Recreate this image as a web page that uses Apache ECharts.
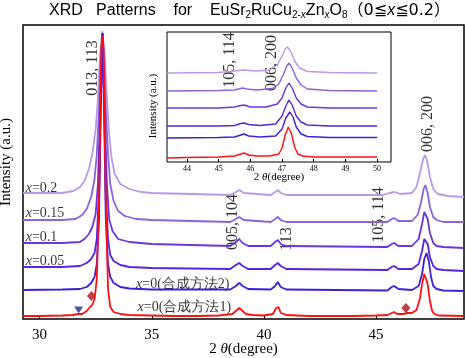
<!DOCTYPE html>
<html><head><meta charset="utf-8">
<script src="https://cdn.jsdelivr.net/npm/echarts@6/dist/echarts.min.js"></script>
<style>html,body{margin:0;padding:0;background:#fff}#c{width:465px;height:358px}</style>
</head><body><div id="c"></div>
<script>
// ---- main panel traces: [2theta, intensity (a.u.)]
const traceM1 = [[29.26,3],[30,3],[31,3.5],[31.5,4],[31.7,5],[31.9,5],[32.1,8],[32.25,12],[32.35,14],[32.45,20],[32.55,40],[32.65,120],[32.75,270],[32.8,283],[32.85,270],[32.95,120],[33.05,30],[33.15,12],[33.3,7],[33.6,5],[34,4],[35,3.5],[36,3],[37,3],[38,3.5],[38.6,5],[38.8,9],[38.9,11],[39.0,9],[39.2,5],[39.5,4],[40,3.5],[40.4,5],[40.55,11],[40.65,12],[40.75,6],[41,4],[42,3],[43,3],[44,3],[45,3.5],[45.5,4],[45.7,6],[45.8,7],[45.95,5],[46.2,5],[46.4,6],[46.6,6],[46.8,9],[46.95,20],[47.05,35],[47.15,45],[47.2,46],[47.3,35],[47.4,18],[47.5,8],[47.6,5],[47.8,3.5],[48.92,3]];
const traceM2 = [[29.26,29],[31,29.5],[31.8,30],[32.1,32],[32.3,36],[32.45,42],[32.55,55],[32.65,100],[32.72,200],[32.8,285],[32.88,200],[32.95,100],[33.05,55],[33.15,42],[33.3,36],[33.6,32],[34,30.5],[35,29.5],[38.5,29.5],[38.75,33],[38.9,36],[39.05,33],[39.3,30],[40.3,29.5],[40.5,33],[40.62,37],[40.75,32],[41,29.5],[45.5,28.5],[45.7,32],[45.8,33],[46,30],[46.6,29],[46.9,33],[47.05,45],[47.15,60],[47.25,66],[47.35,58],[47.45,42],[47.55,33],[47.7,30],[48,28.5],[48.92,28]];
const traceX005 = [[29.26,52],[31,52],[31.8,53],[32.1,56],[32.3,60],[32.45,66],[32.55,80],[32.65,130],[32.72,220],[32.8,286],[32.88,220],[32.95,130],[33.05,80],[33.15,64],[33.3,58],[33.6,54],[34,52],[35,51],[38.5,50],[38.75,54],[38.9,56],[39.05,53],[39.3,50],[40.3,50],[40.5,54],[40.62,56],[40.75,53],[41,50],[45.5,49],[45.7,52],[45.8,53],[46,50],[46.6,50],[46.9,55],[47.05,68],[47.15,80],[47.2,82],[47.3,75],[47.4,62],[47.55,53],[47.7,50],[48,49],[48.92,48]];
const traceX01 = [[29.26,76],[31,76],[31.8,77],[32.0,80],[32.2,85],[32.35,92],[32.5,105],[32.6,135],[32.7,210],[32.8,286],[32.9,210],[33.0,135],[33.1,100],[33.25,88],[33.5,80],[34,77],[35,75],[38.5,73],[38.75,77],[38.9,80],[39.05,76],[39.3,73],[40.3,73],[40.5,77],[40.62,79],[40.75,75],[41,73],[45.5,72],[45.7,75],[45.8,76],[46,73],[46.6,73],[46.9,80],[47.05,95],[47.15,107],[47.2,109],[47.3,100],[47.4,86],[47.55,76],[47.7,73],[48,72],[48.92,71]];
const traceX015 = [[29.26,99],[31,99],[31.6,100],[31.9,104],[32.1,110],[32.3,122],[32.45,140],[32.55,165],[32.65,210],[32.72,260],[32.8,286],[32.88,260],[32.95,210],[33.05,165],[33.15,135],[33.3,118],[33.5,108],[33.8,103],[34.3,100],[35,99],[38.5,97],[38.75,100],[38.9,102],[39.1,99],[40.3,97],[40.5,100],[40.62,102],[40.75,99],[41,97],[45.5,97],[45.7,100],[45.8,101],[46,98],[46.6,98],[46.85,104],[47.0,116],[47.12,130],[47.2,134],[47.3,126],[47.4,112],[47.55,102],[47.7,99],[48,97],[48.92,97]];
const traceX02 = [[29.26,126],[31,126],[31.5,128],[31.8,132],[32.0,138],[32.2,150],[32.35,165],[32.5,190],[32.6,220],[32.7,265],[32.8,288],[32.9,265],[33.0,220],[33.1,185],[33.2,162],[33.35,145],[33.6,135],[34,130],[34.5,127],[35,126],[38.5,124],[38.75,127],[38.9,129],[39.1,126],[40.3,124],[40.5,127],[40.62,129],[40.75,126],[41,124],[45.3,124],[45.6,126],[45.8,127],[46.1,125],[46.6,126],[46.8,132],[46.95,145],[47.1,160],[47.18,164],[47.28,158],[47.4,142],[47.55,130],[47.75,125],[48.2,123],[48.92,122]];
// ---- inset traces
const insM1 = [[43.37,4],[44,4.5],[45,5],[45.5,6],[45.7,8],[45.8,9],[45.95,7],[46.2,6],[46.6,6],[46.9,8],[47.0,14],[47.1,27],[47.2,35],[47.3,28],[47.4,15],[47.5,8],[47.65,6],[48,5],[49,5],[50,5]];
const insM2 = [[43.37,24],[45,24.5],[45.5,25],[45.7,27],[45.8,28],[45.95,26],[46.3,25],[46.8,26],[47.0,33],[47.12,44],[47.25,50],[47.35,45],[47.45,35],[47.6,28],[47.8,25.5],[48.5,24.5],[50,24.5]];
const insX005 = [[43.37,36],[45,36],[45.5,36.5],[45.7,38.5],[45.8,39],[45.95,37.5],[46.3,36.5],[46.8,38],[47.0,46],[47.12,56],[47.22,62],[47.32,57],[47.45,46],[47.6,40],[47.8,37],[48.5,36],[50,36]];
const insX01 = [[43.37,54],[45,54],[45.5,55],[45.7,56.5],[45.8,57],[46,55],[46.5,55],[46.85,58],[47.0,64],[47.12,74],[47.22,79],[47.32,74],[47.45,64],[47.6,58],[47.8,55],[48.5,54],[50,54]];
const insX015 = [[43.37,71],[45,71.5],[45.5,72],[45.75,74],[45.9,73],[46.2,72],[46.7,73.5],[46.9,78],[47.05,88],[47.15,96],[47.22,99],[47.32,94],[47.45,84],[47.6,77],[47.8,73],[48.5,71.5],[50,71]];
const insX02 = [[43.37,89],[45,89.5],[45.5,91],[45.8,92],[46.2,91],[46.6,92],[46.85,97],[47.0,106],[47.1,113],[47.17,115],[47.27,111],[47.4,101],[47.55,94],[47.8,90.5],[48.5,89.5],[50,89]];
// ---- tick values
const mainTicks = [30, 35, 40, 45];
const insetTicks = [44, 45, 46, 47, 48, 49, 50];
// ---- annotations
const peakLabels = [["013, 113",32.36,251],["005, 104",38.63,97],["113",41.04,80],["105, 114",45.13,104],["006, 200",47.31,195]];
const insetPeakLabels = [["105, 114",45.36,102],["006, 200",46.68,99]];
const traceLabels = [["{i|x}=0.2",29.38,131],["{i|x}=0.15",29.38,106],["{i|x}=0.1",29.38,82],["{i|x}=0.05",29.38,58],["{i|x}=0(合成方法2)",34.3,35],["{i|x}=0(合成方法1)",34.37,12]];
const triangleMarks = [[31.74,9]];
const diamondMarks = [[32.31,23],[46.33,11]];

const colors = {m1:'#ff1010', m2:'#3d1fdc', x005:'#5a22e2', x01:'#6b34de', x015:'#8c62e2', x02:'#b79ae8'};
const serif = 'Liberation Serif, Times New Roman, serif';
const sans = 'Liberation Sans, Arial, sans-serif';

function line(data, color, xi, w){
  return {type:'line', xAxisIndex:xi, yAxisIndex:xi, data:data, showSymbol:false, symbol:'none',
    lineStyle:{color:color, width:w}, clip:true, animation:false, silent:true};
}
function labelSeries(arr, xi, opts){
  return {type:'scatter', xAxisIndex:xi, yAxisIndex:xi, symbolSize:0, silent:true, animation:false,
    data: arr.map(a=>({name:a[0], value:[a[1],a[2]]})),
    label: Object.assign({show:true, formatter: p=>p.name, color:'#000', fontFamily:serif, fontSize:14}, opts)};
}

const chart = echarts.init(document.getElementById('c'), null, {renderer:'canvas'});
chart.setOption({
  backgroundColor:'#fff',
  animation:false,
  title:{
    text:'XRD   Patterns    for    EuSr{s|2}RuCu{s|2-}{si|x}Zn{si|x}O{s|8}{p|（0≦}{it|x}{p|≦0.2）}',
    left:49, top:1, padding:0,
    textStyle:{fontFamily:sans, fontSize:16, fontWeight:'normal', color:'#000',
      rich:{
        s:{fontSize:10, padding:[9,0,0,0], fontFamily:sans},
        si:{fontSize:10, fontStyle:'italic', padding:[9,0,0,0], fontFamily:sans},
        p:{fontSize:16, fontFamily:'DejaVu Sans, Noto Sans CJK JP, sans-serif'},
        it:{fontSize:16, fontStyle:'italic', fontFamily:sans}
      }}
  },
  grid:[
    {left:23, top:25, right:1, bottom:39, show:true, borderColor:'#000', borderWidth:1.5, backgroundColor:'transparent', outerBoundsMode:'none', containLabel:false},
    {left:167, top:32, width:224, height:130, show:true, borderColor:'#000', borderWidth:1, backgroundColor:'#fff', outerBoundsMode:'none', containLabel:false}
  ],
  xAxis:[
    {gridIndex:0, type:'value', min:29.26, max:48.92,
      axisLine:{show:false}, splitLine:{show:false},
      axisTick:{show:true, inside:true, length:4, customValues:mainTicks, lineStyle:{color:'#000', width:1}},
      axisLabel:{customValues:mainTicks, fontFamily:serif, fontSize:15, color:'#000', margin:9},
      name:'2 {t|θ}(degree)', nameLocation:'middle', nameGap:23, nameMoveOverlap:false,
      nameTextStyle:{fontFamily:serif, fontSize:15, color:'#000', rich:{t:{fontStyle:'italic', fontFamily:serif, fontSize:15}}}},
    {gridIndex:1, type:'value', min:43.37, max:50.44,
      axisLine:{show:false}, splitLine:{show:false},
      axisTick:{show:true, inside:true, length:3, customValues:insetTicks, lineStyle:{color:'#000', width:1}},
      axisLabel:{customValues:insetTicks, fontFamily:serif, fontSize:8, color:'#000', margin:3},
      name:'2 {t|θ}(degree)', nameLocation:'middle', nameGap:10, nameMoveOverlap:false,
      nameTextStyle:{fontFamily:serif, fontSize:11, color:'#000', rich:{t:{fontStyle:'italic', fontFamily:serif, fontSize:11}}}}
  ],
  yAxis:[
    {gridIndex:0, type:'value', min:0, max:294, axisLine:{show:false}, axisTick:{show:false}, axisLabel:{show:false}, splitLine:{show:false},
      name:'Intensity (a.u.)', nameLocation:'middle', nameGap:9, nameMoveOverlap:false, nameTextStyle:{fontFamily:serif, fontSize:15, color:'#000', padding:[0,0,0,20]}},
    {gridIndex:1, type:'value', min:0, max:130, axisLine:{show:false}, axisTick:{show:false}, axisLabel:{show:false}, splitLine:{show:false},
      name:'Intensity (a.u.)', nameLocation:'middle', nameGap:8, nameMoveOverlap:false, nameTextStyle:{fontFamily:serif, fontSize:11, color:'#000', padding:[0,18,0,0]}}
  ],
  series:[
    line(traceX02, colors.x02, 0, 1.8),
    line(traceX015, colors.x015, 0, 1.8),
    line(traceX01, colors.x01, 0, 1.8),
    line(traceX005, colors.x005, 0, 1.8),
    line(traceM2, colors.m2, 0, 1.8),
    line(traceM1, colors.m1, 0, 1.8),
    line(insX02, colors.x02, 1, 1.4),
    line(insX015, colors.x015, 1, 1.4),
    line(insX01, colors.x01, 1, 1.4),
    line(insX005, colors.x005, 1, 1.4),
    line(insM2, colors.m2, 1, 1.4),
    line(insM1, colors.m1, 1, 1.4),
    {type:'scatter', xAxisIndex:0, yAxisIndex:0, data:triangleMarks, symbol:'triangle', symbolRotate:180, symbolSize:[9,7], itemStyle:{color:'#1e2c7a'}, silent:true, animation:false},
    {type:'scatter', xAxisIndex:0, yAxisIndex:0, data:diamondMarks, symbol:'diamond', symbolSize:[9,10], itemStyle:{color:'#a8101c'}, silent:true, animation:false},
    labelSeries(peakLabels, 0, {rotate:90, position:'inside', fontSize:16}),
    labelSeries(insetPeakLabels, 1, {rotate:90, position:'inside', fontSize:16}),
    labelSeries(traceLabels, 0, {position:'right', distance:0, fontSize:14, rich:{i:{fontStyle:'italic', fontFamily:serif, fontSize:14}}})
  ]
});
</script></body></html>
